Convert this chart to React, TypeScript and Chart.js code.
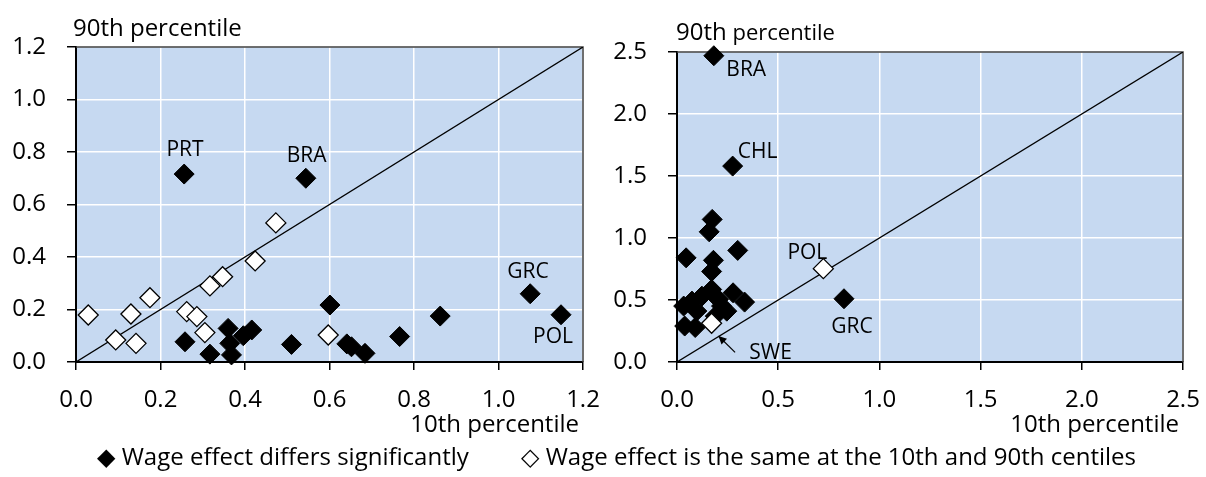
import React, { useEffect, useRef } from "react";
import { Chart, registerables } from "chart.js";

Chart.register(...registerables);

const FONT = "'Open Sans', 'DejaVu Sans', sans-serif";
const PLOT_BG = "#C6D9F1";

// ---------- Left panel data ----------
const leftMax = 1.2;
const leftStep = 0.2;
const leftSignificant = [
  { x: 0.256, y: 0.716 }, // PRT
  { x: 0.544, y: 0.700 }, // BRA
  { x: 1.075, y: 0.260 }, // GRC
  { x: 1.148, y: 0.180 }, // POL
  { x: 0.601, y: 0.217 },
  { x: 0.862, y: 0.175 },
  { x: 0.766, y: 0.097 },
  { x: 0.510, y: 0.067 },
  { x: 0.641, y: 0.069 },
  { x: 0.652, y: 0.058 },
  { x: 0.684, y: 0.033 },
  { x: 0.258, y: 0.077 },
  { x: 0.317, y: 0.030 },
  { x: 0.360, y: 0.128 },
  { x: 0.364, y: 0.071 },
  { x: 0.368, y: 0.027 },
  { x: 0.396, y: 0.100 },
  { x: 0.416, y: 0.122 },
];
const leftSame = [
  { x: 0.029, y: 0.179 },
  { x: 0.094, y: 0.084 },
  { x: 0.130, y: 0.183 },
  { x: 0.142, y: 0.071 },
  { x: 0.175, y: 0.245 },
  { x: 0.262, y: 0.192 },
  { x: 0.286, y: 0.173 },
  { x: 0.305, y: 0.112 },
  { x: 0.317, y: 0.290 },
  { x: 0.347, y: 0.325 },
  { x: 0.424, y: 0.385 },
  { x: 0.473, y: 0.530 },
  { x: 0.597, y: 0.103 },
];
const leftLabels = [
  { text: "PRT", x: 0.258, y: 0.815 },
  { text: "BRA", x: 0.546, y: 0.789 },
  { text: "GRC", x: 1.07, y: 0.347 },
  { text: "POL", x: 1.129, y: 0.101 },
];

// ---------- Right panel data ----------
const rightMax = 2.5;
const rightStep = 0.5;
const rightSignificant = [
  { x: 0.182, y: 2.47 }, // BRA
  { x: 0.275, y: 1.58 }, // CHL
  { x: 0.825, y: 0.51 }, // GRC
  { x: 0.174, y: 1.15 },
  { x: 0.159, y: 1.05 },
  { x: 0.045, y: 0.84 },
  { x: 0.300, y: 0.90 },
  { x: 0.180, y: 0.82 },
  { x: 0.171, y: 0.73 },
  { x: 0.171, y: 0.585 },
  { x: 0.277, y: 0.558 },
  { x: 0.334, y: 0.483 },
  { x: 0.123, y: 0.531 },
  { x: 0.205, y: 0.505 },
  { x: 0.074, y: 0.491 },
  { x: 0.033, y: 0.451 },
  { x: 0.220, y: 0.451 },
  { x: 0.246, y: 0.410 },
  { x: 0.098, y: 0.411 },
  { x: 0.189, y: 0.370 },
  { x: 0.038, y: 0.290 },
  { x: 0.090, y: 0.278 },
];
const rightSame = [
  { x: 0.171, y: 0.312 }, // SWE
  { x: 0.723, y: 0.753 }, // POL
];
const rightLabels = [
  { text: "BRA", x: 0.342, y: 2.368 },
  { text: "CHL", x: 0.398, y: 1.707 },
  { text: "POL", x: 0.644, y: 0.892 },
  { text: "GRC", x: 0.865, y: 0.296 },
  { text: "SWE", x: 0.462, y: 0.086 },
];
const rightArrow = { fromX: 0.287, fromY: 0.078, toX: 0.205, toY: 0.21 };

const legendSignificant = "\u25C6 Wage effect differs significantly";
const legendSame = "\u25C7 Wage effect is the same at the 10th and 90th centiles";
const xTitle = "10th percentile";
const yTitleBig = "90th";
const yTitleRest = " percentile";

type Pt = { x: number; y: number };
type Lbl = { text: string; x: number; y: number };

interface PanelSpec {
  width: number;
  height: number;
  max: number;
  step: number;
  significant: Pt[];
  same: Pt[];
  labels: Lbl[];
  arrow?: { fromX: number; fromY: number; toX: number; toY: number };
  yAxisWidth: number;
  padTop: number;
  padRight: number;
  xAxisHeight: number;
  titleBaselineOffset: number;
  titleRestSize: number;
  titleDx: number;
}

function buildConfig(spec: PanelSpec): any {
  const fmt = (v: any) => Number(v).toFixed(1);
  const tickFont = { family: FONT, size: 24 };
  const decor = {
    id: "decor",
    beforeDraw(chart: any) {
      const { ctx, chartArea: a } = chart;
      ctx.save();
      ctx.fillStyle = PLOT_BG;
      ctx.fillRect(a.left, a.top, a.right - a.left, a.bottom - a.top);
      ctx.restore();
    },
    beforeDatasetsDraw(chart: any) {
      const { ctx, chartArea: a } = chart;
      ctx.save();
      ctx.strokeStyle = "#404040";
      ctx.lineWidth = 1.5;
      ctx.beginPath();
      ctx.moveTo(a.left, a.top);
      ctx.lineTo(a.right, a.top);
      ctx.lineTo(a.right, a.bottom);
      ctx.stroke();
      ctx.restore();
    },
    afterDraw(chart: any) {
      const { ctx, chartArea: a, scales } = chart;
      const xs = scales.x;
      const ys = scales.y;
      ctx.save();
      ctx.fillStyle = "#000";
      // country labels
      ctx.font = `21px ${FONT}`;
      ctx.textAlign = "center";
      ctx.textBaseline = "alphabetic";
      for (const l of spec.labels) {
        const px = xs.getPixelForValue(l.x);
        const py = ys.getPixelForValue(l.y);
        ctx.fillText(l.text, px, py + 0.357 * 21);
      }
      // arrow
      if (spec.arrow) {
        const x1 = xs.getPixelForValue(spec.arrow.fromX);
        const y1 = ys.getPixelForValue(spec.arrow.fromY);
        const x2 = xs.getPixelForValue(spec.arrow.toX);
        const y2 = ys.getPixelForValue(spec.arrow.toY);
        const ang = Math.atan2(y2 - y1, x2 - x1);
        ctx.strokeStyle = "#000";
        ctx.lineWidth = 1.2;
        ctx.beginPath();
        ctx.moveTo(x1, y1);
        ctx.lineTo(x2, y2);
        ctx.stroke();
        const hl = 9;
        ctx.beginPath();
        ctx.moveTo(x2, y2);
        ctx.lineTo(x2 - hl * Math.cos(ang - 0.45), y2 - hl * Math.sin(ang - 0.45));
        ctx.lineTo(x2 - hl * Math.cos(ang + 0.45), y2 - hl * Math.sin(ang + 0.45));
        ctx.closePath();
        ctx.fill();
      }
      // y axis title at the top
      ctx.textAlign = "left";
      ctx.font = `24px ${FONT}`;
      const tx = a.left + spec.titleDx;
      const ty = a.top - spec.titleBaselineOffset;
      ctx.fillText(yTitleBig, tx, ty);
      const w = ctx.measureText(yTitleBig).width;
      ctx.font = `${spec.titleRestSize}px ${FONT}`;
      ctx.fillText(yTitleRest, tx + w, ty);
      // x axis title
      ctx.font = `24px ${FONT}`;
      ctx.textAlign = "right";
      ctx.fillText(xTitle, a.right - 4, 432);
      ctx.restore();
    },
  };

  return {
    type: "scatter",
    data: {
      datasets: [
        {
          label: legendSame,
          data: spec.same,
          pointStyle: "rectRot",
          pointRadius: 10,
          pointBackgroundColor: "#FFFFFF",
          pointBorderColor: "#000000",
          pointBorderWidth: 1.3,
          order: 0,
          clip: false,
        },
        {
          label: legendSignificant,
          data: spec.significant,
          pointStyle: "rectRot",
          pointRadius: 10,
          pointBackgroundColor: "#000000",
          pointBorderColor: "#000000",
          pointBorderWidth: 1,
          order: 1,
          clip: false,
        },
        {
          type: "line",
          label: "diagonal",
          data: [
            { x: 0, y: 0 },
            { x: spec.max, y: spec.max },
          ],
          borderColor: "#000",
          borderWidth: 1.3,
          pointRadius: 0,
          showLine: true,
          order: 2,
        },
      ],
    },
    options: {
      animation: false,
      responsive: false,
      devicePixelRatio: 1,
      events: [],
      layout: { padding: { top: spec.padTop, right: spec.padRight, left: 0, bottom: 0 } },
      plugins: { legend: { display: false }, tooltip: { enabled: false } },
      scales: {
        x: {
          type: "linear",
          min: 0,
          max: spec.max,
          ticks: { stepSize: spec.step, callback: fmt, color: "#000", font: tickFont, padding: 16, maxRotation: 0 },
          grid: { color: "#FFFFFF", lineWidth: 1.5, tickColor: "#000", tickLength: 8, drawTicks: true },
          border: { display: true, color: "#000", width: 2 },
          afterFit: (s: any) => {
            s.height = spec.xAxisHeight;
            s.paddingLeft = 0;
            s.paddingRight = 0;
          },
        },
        y: {
          type: "linear",
          min: 0,
          max: spec.max,
          ticks: { stepSize: spec.step, callback: fmt, color: "#000", font: tickFont, padding: 21 },
          grid: { color: "#FFFFFF", lineWidth: 1.5, tickColor: "#000", tickLength: 9, drawTicks: true },
          border: { display: true, color: "#000", width: 2 },
          afterFit: (s: any) => {
            s.width = spec.yAxisWidth;
            s.paddingTop = 0;
            s.paddingBottom = 0;
          },
        },
      },
    },
    plugins: [decor],
  };
}

function Panel({ spec, left }: { spec: PanelSpec; left: number }) {
  const ref = useRef<HTMLCanvasElement | null>(null);
  useEffect(() => {
    if (!ref.current) return;
    const chart = new Chart(ref.current, buildConfig(spec));
    return () => chart.destroy();
  }, []);
  return (
    <canvas
      ref={ref}
      width={spec.width}
      height={spec.height}
      style={{ position: "absolute", left, top: 0, width: spec.width, height: spec.height }}
    />
  );
}

const leftSpec: PanelSpec = {
  width: 600,
  height: 440,
  max: leftMax,
  step: leftStep,
  significant: leftSignificant,
  same: leftSame,
  labels: leftLabels,
  yAxisWidth: 76,
  padTop: 47,
  padRight: 17,
  xAxisHeight: 78,
  titleBaselineOffset: 11,
  titleRestSize: 24,
  titleDx: -3,
};

const rightSpec: PanelSpec = {
  width: 606,
  height: 440,
  max: rightMax,
  step: rightStep,
  significant: rightSignificant,
  same: rightSame,
  labels: rightLabels,
  arrow: rightArrow,
  yAxisWidth: 77,
  padTop: 52,
  padRight: 23,
  xAxisHeight: 78,
  titleBaselineOffset: 12,
  titleRestSize: 22,
  titleDx: -1,
};

const legendStyle: React.CSSProperties = {
  position: "absolute",
  top: 441,
  font: `24px ${FONT}`,
  lineHeight: "30px",
  whiteSpace: "nowrap",
  color: "#000",
};

export default function App() {
  return (
    <div style={{ position: "absolute", left: 0, top: 0, width: 1206, height: 477, background: "#fff", overflow: "hidden" }}>
      <Panel spec={leftSpec} left={0} />
      <Panel spec={rightSpec} left={600} />
      <div style={{ ...legendStyle, left: 97 }}>{legendSignificant}</div>
      <div style={{ ...legendStyle, left: 521 }}>{legendSame}</div>
    </div>
  );
}
